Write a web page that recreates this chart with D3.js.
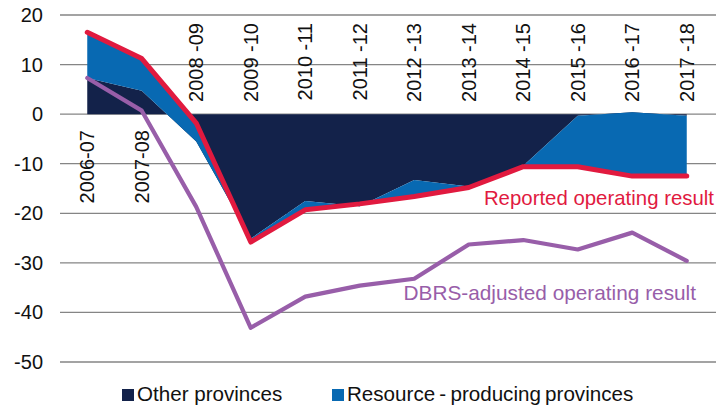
<!DOCTYPE html>
<html>
<head>
<meta charset="utf-8">
<script src="https://cdn.jsdelivr.net/npm/d3@7"></script>
<style>
  html, body { margin: 0; padding: 0; background: #fff; }
  svg { display: block; font-family: "Liberation Sans", Arial, sans-serif; }
</style>
</head>
<body>
<svg id="chart" width="726" height="407"></svg>
<script>
const categories = ["2006-07","2007-08","2008 -09","2009 -10","2010 -11","2011 -12","2012 -13","2013 -14","2014 -15","2015 -16","2016 -17","2017 -18"];
const otherProvinces = [7.3, 4.7, -5.5, -25.1, -17.5, -18.6, -13.3, -14.6, -10.4, -0.3, 0.4, -0.3];
const resourceProvinces = [9.2, 6.5, 3.7, -0.7, -1.8, 0.5, -3.3, -0.2, -0.2, -10.3, -12.9, -12.2];
const reportedResult = [16.5, 11.2, -1.8, -25.8, -19.3, -18.1, -16.6, -14.8, -10.6, -10.6, -12.5, -12.5];
const dbrsAdjusted = [7.3, 0.7, -18.7, -43.1, -36.8, -34.6, -33.2, -26.3, -25.4, -27.3, -23.9, -29.6];
const yTicks = [20, 10, 0, -10, -20, -30, -40, -50];

const colors = { other: "#13224a", resource: "#0869b2", reported: "#e11a3f", dbrs: "#985ea9", grid: "#858585" };

const svg = d3.select("#chart");
const x = d3.scaleBand().domain(categories).range([60, 714]);
const cx = c => x(c) + x.bandwidth() / 2;
const y = d3.scaleLinear().domain([-50, 20]).range([362, 15]);

// gridlines
svg.append("g").selectAll("line").data(yTicks).join("line")
  .attr("x1", 60).attr("x2", 716)
  .attr("y1", d => y(d)).attr("y2", d => y(d))
  .attr("stroke", colors.grid).attr("stroke-width", 1.3);

// y labels
svg.append("g").selectAll("text").data(yTicks).join("text")
  .attr("x", 43).attr("y", d => y(d)).attr("dy", "0.35em")
  .attr("text-anchor", "end").attr("font-size", 20).attr("fill", "#111")
  .text(d => d);

// stacked areas
const table = categories.map((c, i) => ({ cat: c, other: otherProvinces[i], resource: resourceProvinces[i] }));
const stack = d3.stack().keys(["other", "resource"]).offset(d3.stackOffsetNone).order(d3.stackOrderNone);
const layers = stack(table);
const area = d3.area().x(d => cx(d.data.cat)).y0(d => y(d[0])).y1(d => y(d[1]));
svg.append("g").selectAll("path").data(layers).join("path")
  .attr("d", area)
  .attr("fill", d => d.key === "other" ? colors.other : colors.resource);

// category labels
svg.append("g").selectAll("text").data(categories).join("text")
  .attr("transform", (d, i) => {
    const below = i < 2;
    return `translate(${cx(d)},${below ? 130 : 23}) rotate(-90)`;
  })
  .attr("dy", "0.35em")
  .attr("text-anchor", "end")
  .attr("font-size", 20).attr("fill", "#111")
  .text(d => d);

// lines
const line = d3.line().x((d, i) => cx(categories[i])).y(d => y(d));
svg.append("path").datum(dbrsAdjusted).attr("d", line)
  .attr("fill", "none").attr("stroke", colors.dbrs).attr("stroke-width", 4.2)
  .attr("stroke-linejoin", "round").attr("stroke-linecap", "round");
svg.append("path").datum(reportedResult).attr("d", line)
  .attr("fill", "none").attr("stroke", colors.reported).attr("stroke-width", 5)
  .attr("stroke-linejoin", "round").attr("stroke-linecap", "round");

// annotations
svg.append("text").attr("x", 714).attr("y", 205).attr("text-anchor", "end")
  .attr("font-size", 20.4).attr("fill", colors.reported).text("Reported operating result");
svg.append("text").attr("x", 696).attr("y", 300).attr("text-anchor", "end")
  .attr("font-size", 20.8).attr("fill", colors.dbrs).text("DBRS-adjusted operating result");

// legend
const legend = [
  { label: "Other provinces", color: colors.other, x: 122 },
  { label: "Resource - producing provinces", color: colors.resource, x: 332 }
];
const lg = svg.append("g").selectAll("g").data(legend).join("g");
lg.append("rect").attr("x", d => d.x).attr("y", 389).attr("width", 12).attr("height", 12).attr("fill", d => d.color);
lg.append("text").attr("x", d => d.x + 15).attr("y", 401).attr("font-size", 20.6)
  .attr("word-spacing", d => d.x > 200 ? -1.5 : 0)
  .attr("fill", "#111").text(d => d.label);
</script>
</body>
</html>
